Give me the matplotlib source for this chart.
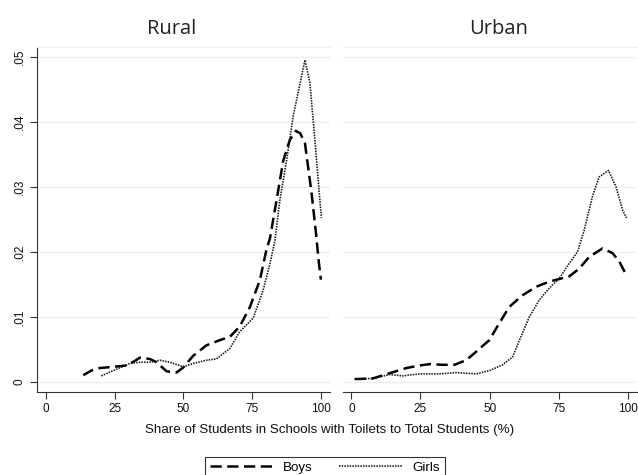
import matplotlib.pyplot as plt
import matplotlib as mpl

# --- Data -------------------------------------------------------

panels = ["Rural", "Urban"]

rural_boys_x = [13.6, 16.5, 19.6, 25.0, 29.3, 32.0, 34.2, 37.8, 40.2, 43.9, 47.5, 50.0,
                53.6, 58.4, 63.3, 66.9, 70.5, 74.2, 77.8, 80.2, 81.5, 83.9, 86.3, 88.7,
                90.9, 92.5, 94.2, 96.6, 98.2, 99.2, 100.0]
rural_boys_y = [0.0010, 0.0017, 0.0021, 0.0023, 0.0025, 0.0031, 0.0037, 0.0035, 0.0030,
                0.0016, 0.0014, 0.0022, 0.0040, 0.0056, 0.0064, 0.0069, 0.0085, 0.0115,
                0.0156, 0.0203, 0.0221, 0.0280, 0.0340, 0.0372, 0.0386, 0.0382, 0.0367,
                0.0290, 0.0229, 0.0185, 0.0157]

rural_girls_x = [20.2, 25.0, 30.5, 34.2, 37.8, 41.5, 45.0, 50.0, 53.6, 58.4, 62.0, 66.9,
                 70.5, 75.4, 79.0, 81.5, 83.3, 85.1, 87.5, 89.9, 92.4, 94.2, 96.0, 97.8,
                 99.6, 100.2]
rural_girls_y = [0.0009, 0.0018, 0.0028, 0.0030, 0.0030, 0.0033, 0.0030, 0.0023, 0.0028,
                 0.0033, 0.0035, 0.0051, 0.0077, 0.0098, 0.0141, 0.0182, 0.0218, 0.0280,
                 0.0340, 0.0408, 0.0459, 0.0495, 0.0460, 0.0372, 0.0280, 0.0252]

urban_boys_x = [1.2, 7.8, 13.8, 19.9, 24.7, 28.3, 33.0, 37.3, 41.5, 45.1, 49.9, 53.5,
                57.1, 61.9, 66.8, 71.6, 75.2, 78.8, 82.4, 86.0, 90.8, 94.4, 96.9, 99.2]
urban_boys_y = [0.0004, 0.0005, 0.0013, 0.0021, 0.0025, 0.0027, 0.0026, 0.0026, 0.0033,
                0.0046, 0.0064, 0.0090, 0.0115, 0.0133, 0.0146, 0.0154, 0.0158, 0.0162,
                0.0174, 0.0192, 0.0205, 0.0198, 0.0185, 0.0166]

urban_girls_x = [1.2, 7.8, 13.8, 18.6, 24.7, 31.9, 37.9, 45.1, 49.9, 54.7, 58.3, 60.8,
                 64.4, 68.0, 71.6, 75.2, 78.8, 81.8, 84.2, 87.2, 89.6, 93.0, 95.7, 98.1,
                 99.5]
urban_girls_y = [0.0004, 0.0005, 0.0011, 0.0009, 0.0012, 0.0012, 0.0014, 0.0012, 0.0017,
                 0.0026, 0.0038, 0.0064, 0.0100, 0.0126, 0.0144, 0.0159, 0.0182, 0.0200,
                 0.0233, 0.0285, 0.0315, 0.0325, 0.0300, 0.0264, 0.0252]

x_ticks = [0, 25, 50, 75, 100]
y_ticks = [0, 0.01, 0.02, 0.03, 0.04, 0.05]
y_tick_labels = ["0", ".01", ".02", ".03", ".04", ".05"]

# --- Style -------------------------------------------------------

mpl.rcParams["font.family"] = "Liberation Sans"
grid_col = "#e9f1f2"
axis_col = "#333333"

fig = plt.figure(figsize=(6.38, 4.75), dpi=100)
ax_l = fig.add_axes([37 / 638, 1 - 391.7 / 475, 293 / 638, 344.7 / 475])
ax_r = fig.add_axes([342.5 / 638, 1 - 391.7 / 475, 294.5 / 638, 344.7 / 475])

series = {
    "Rural": (rural_boys_x, rural_boys_y, rural_girls_x, rural_girls_y),
    "Urban": (urban_boys_x, urban_boys_y, urban_girls_x, urban_girls_y),
}

for ax, name in zip([ax_l, ax_r], panels):
    bx, by, gx, gy = series[name]
    ax.plot(bx, by, color="black", linewidth=1.8, linestyle=(0, (4.5, 2.2)), label="Boys")
    ax.plot(gx, gy, color="#1a1a1a", linewidth=1.2, linestyle=(0, (0.9, 0.7)), label="Girls")

    ax.set_xlim(-3.2, 103.3)
    ax.set_ylim(-0.00154, 0.0515)
    ax.set_xticks(x_ticks)
    ax.set_xticklabels([str(t) for t in x_ticks], fontsize=8.5)
    ax.set_yticks(y_ticks)
    for t in y_ticks:
        ax.axhline(t, color=grid_col, linewidth=1.0, zorder=0)

    ax.spines["top"].set_color(grid_col)
    ax.spines["right"].set_visible(False)
    ax.spines["bottom"].set_color(axis_col)
    ax.spines["left"].set_color(axis_col)
    ax.tick_params(axis="both", length=5, width=0.8, color=axis_col, labelcolor="#111111", pad=3)

ax_l.set_yticklabels(y_tick_labels, fontsize=8.5, rotation=90, va="center")
ax_r.spines["left"].set_visible(False)
ax_r.tick_params(axis="y", left=False, labelleft=False)

# Panel titles
fig.text(172 / 638, 1 - 29 / 475, "Rural", family="Open Sans", fontsize=14.5,
         color="#222222", ha="center", va="center")
fig.text(499 / 638, 1 - 29 / 475, "Urban", family="Open Sans", fontsize=14.5,
         color="#222222", ha="center", va="center")

fig.text(330 / 638, 1 - 430 / 475, "Share of Students in Schools with Toilets to Total Students (%)",
         fontsize=9.6, color="#111111", ha="center", va="center")

handles, labels = ax_l.get_legend_handles_labels()
leg = fig.legend(handles, labels, loc="upper center", bbox_to_anchor=(325 / 638, 1 - 450 / 475),
                 ncol=2, fontsize=9.6, frameon=True, fancybox=False, handlelength=4.8,
                 handletextpad=0.7, columnspacing=2.0, borderpad=0.35, edgecolor="black")
leg.get_frame().set_linewidth(0.8)

plt.savefig("out.png", dpi=100)
